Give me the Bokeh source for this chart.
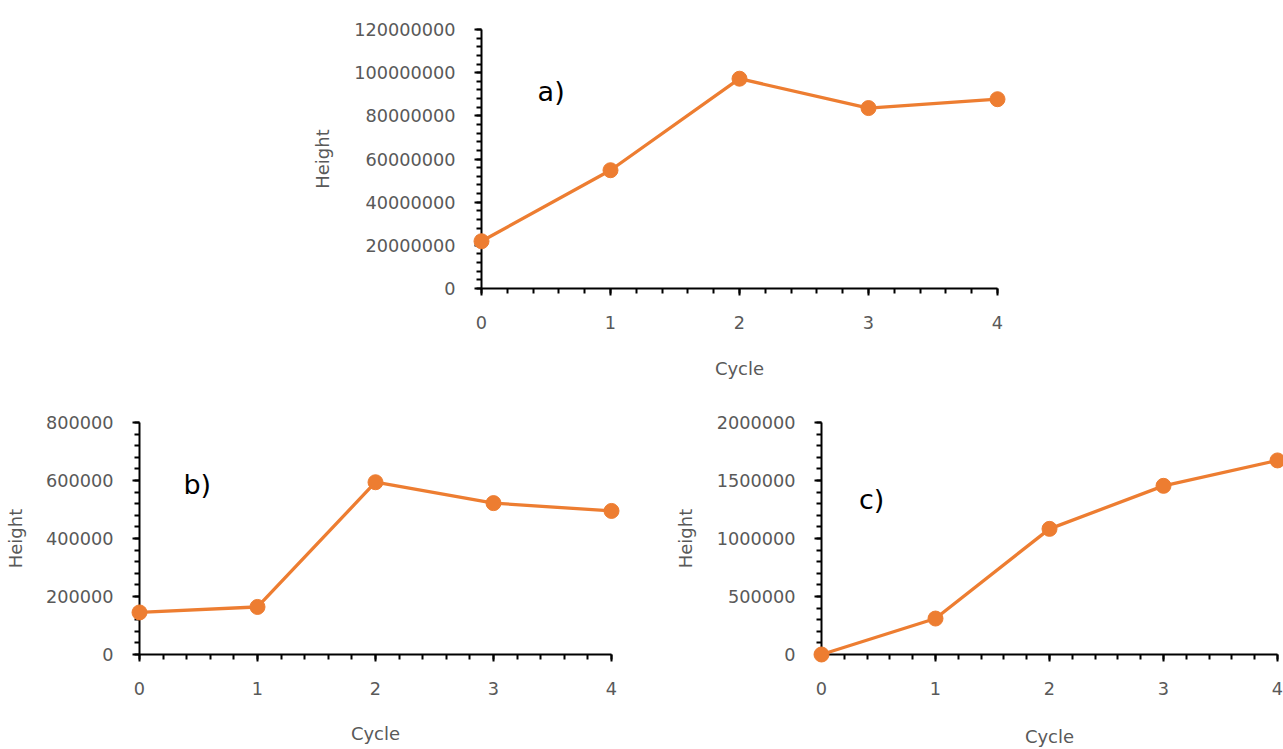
from bokeh.plotting import figure
from bokeh.layouts import column, row
from bokeh.models import Range1d, SingleIntervalTicker, NumeralTickFormatter, Label, Spacer
from bokeh.embed import file_html
from bokeh.resources import INLINE

# ---- data ----
cycles = [0, 1, 2, 3, 4]
height_a = [21900000, 54800000, 97200000, 83600000, 87700000]
height_b = [145000, 164000, 594000, 522000, 495000]
height_c = [0, 310000, 1083000, 1454000, 1673000]

y_max = {"a": 120000000, "b": 800000, "c": 2000000}
y_step = {"a": 20000000, "b": 200000, "c": 500000}
panel_names = ["a)", "b)", "c)"]
x_label = "Cycle"
y_label = "Height"

ORANGE = "#ED7D31"
GRAY = "#595959"
FONT = "DejaVu Sans"


def make(ys, key, name, name_pos, frame_w, frame_h, bl, br, bt, bb,
         xlab_standoff, ylab_standoff):
    p = figure(width=bl + frame_w + br, height=bt + frame_h + bb,
               x_range=Range1d(0, 4), y_range=Range1d(0, y_max[key]),
               output_backend="svg", toolbar_location=None,
               min_border_left=bl, min_border_right=br,
               min_border_top=bt, min_border_bottom=bb)
    p.outline_line_color = None
    p.xgrid.visible = False
    p.ygrid.visible = False
    p.background_fill_color = "white"
    p.border_fill_color = "white"

    p.xaxis.ticker = SingleIntervalTicker(interval=1, num_minor_ticks=5)
    p.yaxis.ticker = SingleIntervalTicker(interval=y_step[key], num_minor_ticks=5)
    p.yaxis.formatter = NumeralTickFormatter(format="0")

    for ax in (p.xaxis[0], p.yaxis[0]):
        ax.axis_line_color = "black"
        ax.axis_line_width = 2
        ax.major_tick_line_color = "black"
        ax.major_tick_line_width = 2
        ax.minor_tick_line_color = "black"
        ax.minor_tick_line_width = 2
        ax.major_tick_in = 0
        ax.major_tick_out = 7
        ax.minor_tick_in = 0
        ax.minor_tick_out = 5
        ax.major_label_text_font = FONT
        ax.major_label_text_font_size = "17.7px"
        ax.major_label_text_color = GRAY
        ax.axis_label_text_font = FONT
        ax.axis_label_text_font_size = "18px"
        ax.axis_label_text_color = GRAY
        ax.axis_label_text_font_style = "normal"

    p.xaxis.axis_label = x_label
    p.yaxis.axis_label = y_label
    p.xaxis.major_label_standoff = 20
    p.yaxis.major_label_standoff = 19
    p.xaxis.axis_label_standoff = xlab_standoff
    p.yaxis.axis_label_standoff = ylab_standoff

    p.line(cycles, ys, line_color=ORANGE, line_width=3.3, level="overlay")
    p.scatter(cycles, ys, size=15, fill_color=ORANGE, line_color=ORANGE, level="overlay")

    p.add_layout(Label(x=name_pos[0], y=name_pos[1], text=name,
                       text_font=FONT, text_font_size="27px", text_color="black",
                       text_align="center", text_baseline="middle"))
    return p


pa = make(height_a, "a", panel_names[0], (0.54, 91500000), 516, 259, 181, 20, 29, 107, 26, 18)
pb = make(height_b, "b", panel_names[1], (0.49, 586000), 472, 236, 139, 49, 27, 91, 25, 17)
pc = make(height_c, "c", panel_names[2], (0.44, 1336000), 456, 241, 161, 6, 22, 91, 28, 18)

layout = column(row(Spacer(width=300, height=395), pa), row(pb, pc))

open("out.html", "w").write(file_html(layout, INLINE))
